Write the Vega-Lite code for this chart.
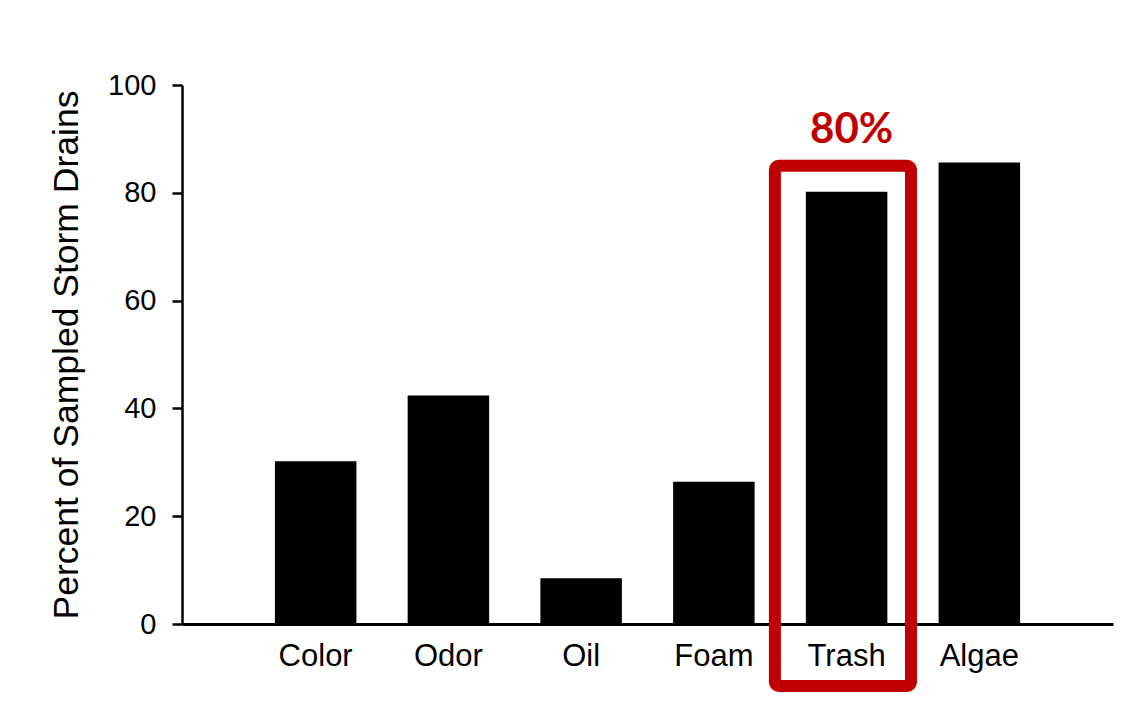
{
  "$schema": "https://vega.github.io/schema/vega-lite/v6.json",
  "width": 931,
  "height": 539,
  "autosize": {"type": "none"},
  "padding": {"left": 182, "top": 85, "right": 32, "bottom": 84},
  "background": "white",
  "config": {
    "view": {"stroke": null},
    "font": "Liberation Sans",
    "axis": {"grid": false, "domainColor": "black", "tickColor": "black", "labelColor": "black", "titleColor": "black", "labelFont": "Liberation Sans", "titleFont": "Liberation Sans"}
  },
  "data": {
    "values": [
      {"feature": "Color", "percent": 30.2, "label": ""},
      {"feature": "Odor", "percent": 42.4, "label": ""},
      {"feature": "Oil", "percent": 8.5, "label": ""},
      {"feature": "Foam", "percent": 26.4, "label": ""},
      {"feature": "Trash", "percent": 80.2, "label": "80%"},
      {"feature": "Algae", "percent": 85.6, "label": ""}
    ]
  },
  "layer": [
    {
      "mark": {"type": "bar", "color": "black"},
      "encoding": {
        "x": {
          "field": "feature", "type": "nominal", "sort": null,
          "scale": {"paddingInner": 0.386, "paddingOuter": 0.70},
          "axis": {"title": null, "ticks": false, "labelAngle": 0, "labelFontSize": 31, "labelPadding": 17, "domainWidth": 3}
        },
        "y": {
          "field": "percent", "type": "quantitative",
          "scale": {"domain": [0, 100]},
          "axis": {"title": "Percent of Sampled Storm Drains", "titleFontSize": 35.5, "titleFontWeight": "normal", "titlePadding": 23, "values": [0, 20, 40, 60, 80, 100], "labelFontSize": 29, "labelPadding": 16, "tickSize": 10, "tickWidth": 2.5, "domainWidth": 2.5}
        }
      }
    },
    {
      "transform": [{"filter": "datum.label != ''"}],
      "mark": {"type": "rect", "filled": false, "stroke": "#C00000", "strokeWidth": 12, "cornerRadius": 4, "clip": false},
      "encoding": {
        "x": {"field": "feature", "type": "nominal", "sort": null, "bandPosition": -0.38},
        "x2": {"field": "feature", "bandPosition": 1.29},
        "y": {"datum": 85},
        "y2": {"datum": -11.5}
      }
    },
    {
      "transform": [{"filter": "datum.label != ''"}],
      "mark": {"type": "text", "color": "#C00000", "font": "Lato", "fontWeight": "bold", "fontSize": 42, "baseline": "middle", "dy": -62, "dx": 5},
      "encoding": {
        "x": {"field": "feature", "type": "nominal", "sort": null},
        "y": {"field": "percent", "type": "quantitative"},
        "text": {"field": "label"}
      }
    }
  ]
}
